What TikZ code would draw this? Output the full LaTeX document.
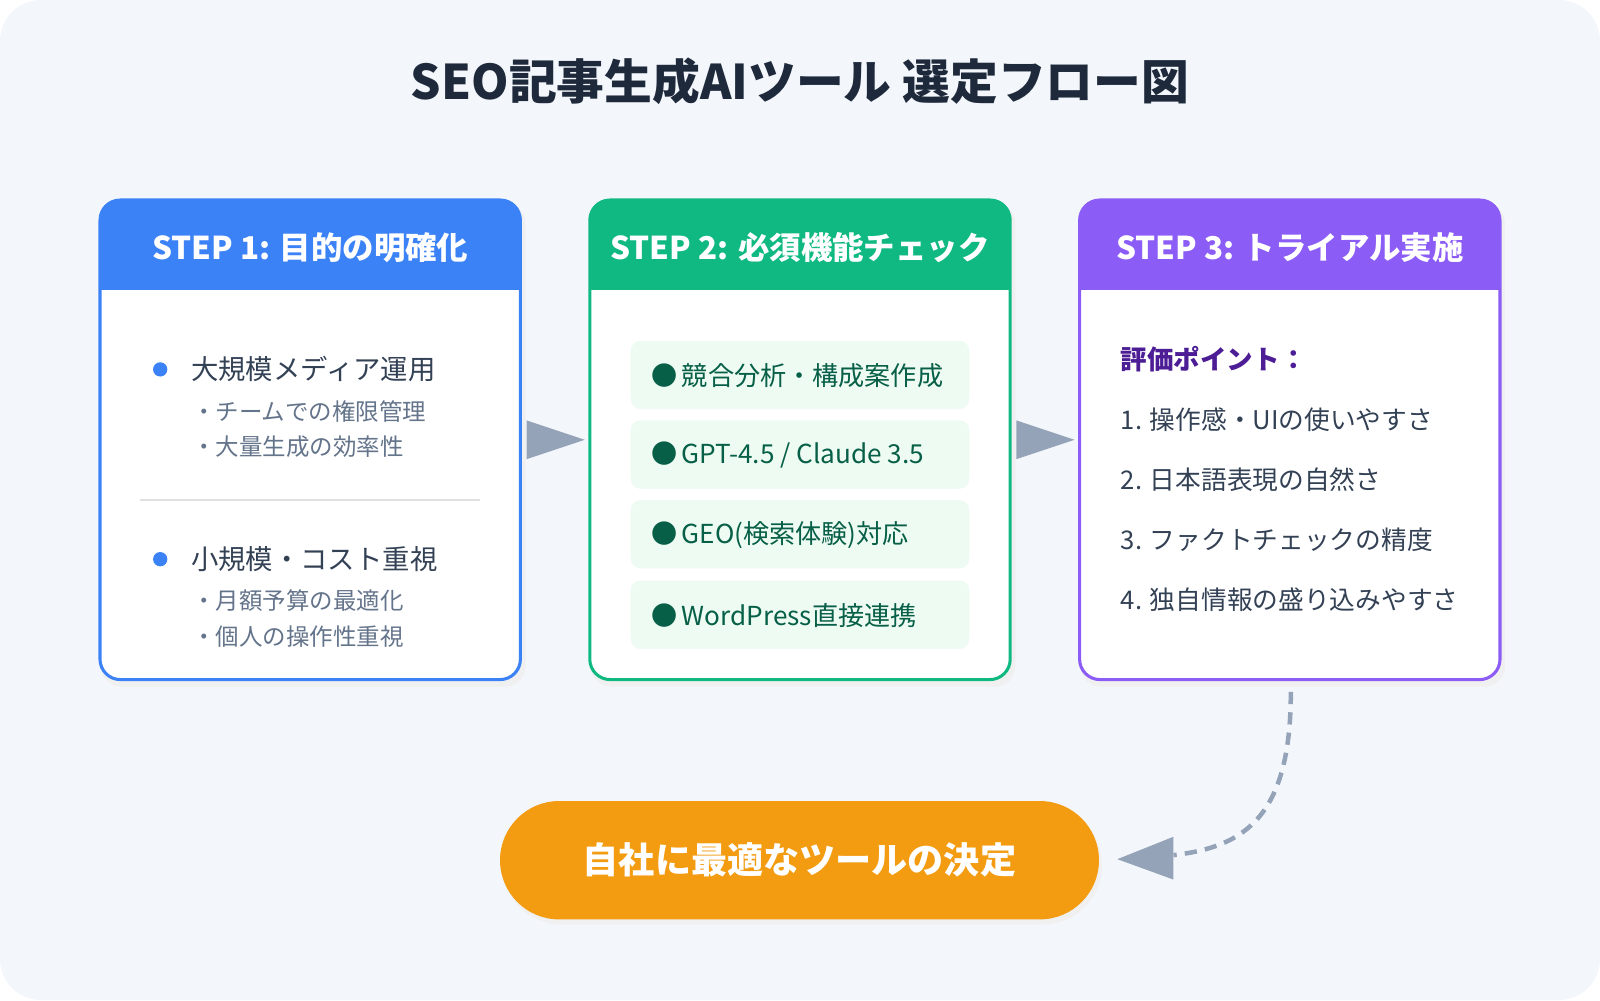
\documentclass[tikz,border=0pt]{standalone}
\usepackage{fontspec}
\setmainfont{Noto Sans CJK JP}
\usetikzlibrary{arrows.meta}
\definecolor{bg}{HTML}{F3F7FC}
\definecolor{blue1}{HTML}{3B82F6}
\definecolor{green1}{HTML}{10B981}
\definecolor{purple1}{HTML}{8B5CF6}
\definecolor{dark}{HTML}{1E293B}
\definecolor{body}{HTML}{334155}
\definecolor{sub}{HTML}{64748B}
\definecolor{gbox}{HTML}{EEFBF3}
\definecolor{gtext}{HTML}{065F46}
\definecolor{ptext}{HTML}{4C1D95}
\definecolor{arr}{HTML}{94A3B8}
\definecolor{orange1}{HTML}{F39C12}
\begin{document}
\begin{tikzpicture}[x=0.5pt,y=-0.5pt,
  hdr/.style={text=white,font=\fontsize{15.4}{18}\selectfont\bfseries},
  bodyt/.style={anchor=west,text=body,font=\fontsize{13.4}{16}\selectfont,inner sep=0},
  subt/.style={anchor=west,text=sub,font=\fontsize{11.5}{14}\selectfont,inner sep=0},
  gt/.style={anchor=west,text=gtext,font=\fontsize{12.8}{16}\selectfont,inner sep=0},
  st/.style={anchor=west,text=body,font=\fontsize{12.6}{16}\selectfont,inner sep=0},
  gb/.style={fill=gbox,rounded corners=5pt},
  tri/.style={fill=arr}]
\useasboundingbox (0,0) rectangle (1568,980);
\fill[bg,rounded corners=20pt] (0,0) rectangle (1568,980);
\node[text=dark,font=\fontsize{23.4}{28}\selectfont\bfseries] (title) at (784,80) {SEO記事生成AIツール 選定フロー図};
% boxes
\foreach \x/\c/\n in {97/blue1/a,577/green1/b,1057/purple1/c}{
  \fill[black!6,rounded corners=10pt] (\x+2,199) rectangle (\x+418,673);
  \begin{scope}
  \clip[rounded corners=10pt] (\x,195) rectangle (\x+414,667);
  \fill[white] (\x,195) rectangle (\x+414,667);
  \fill[\c] (\x,195) rectangle (\x+414,284);
  \end{scope}
  \draw[\c,line width=1.5pt,rounded corners=10pt] (\x+1,196) rectangle (\x+413,666);
}
\node[hdr] (h1) at (304,243) {STEP 1: 目的の明確化};
\node[hdr] (h2) at (784,243) {STEP 2: 必須機能チェック};
\node[hdr] (h3) at (1264,243) {STEP 3: トライアル実施};
% step1
\fill[blue1] (157,362) circle (7);
\node[bodyt] (a1) at (187,362) {大規模メディア運用};
\node[subt] (a2) at (188,403) {・チームでの権限管理};
\node[subt] (a3) at (188,438) {・大量生成の効率性};
\draw[black!12,line width=0.7pt] (137,490) -- (470,490);
\fill[blue1] (157,548) circle (7);
\node[bodyt] (a4) at (187,548) {小規模・コスト重視};
\node[subt] (a5) at (188,589) {・月額予算の最適化};
\node[subt] (a6) at (188,624) {・個人の操作性重視};
% step2
\foreach \y in {334,412,490,569}{\fill[gb] (618,\y) rectangle (950,\y+67);}
\node[gt] (b1) at (638,368) {●\,競合分析・構成案作成};
\node[gt] (b2) at (638,446) {●\,GPT-4.5 / Claude 3.5};
\node[gt] (b3) at (638,524) {●\,GEO(検索体験)対応};
\node[gt] (b4) at (638,603) {●\,WordPress直接連携};
% step3
\node[bodyt,text=ptext,font=\fontsize{13}{16}\selectfont\bfseries] (c0) at (1098,352) {評価ポイント：};
\node[st] (c1) at (1098,411) {1. 操作感・UIの使いやすさ};
\node[st] (c2) at (1098,470) {2. 日本語表現の自然さ};
\node[st] (c3) at (1098,529) {3. ファクトチェックの精度};
\node[st] (c4) at (1098,588) {4. 独自情報の盛り込みやすさ};
% arrows
\fill[tri] (516,412) -- (573,431) -- (516,450) -- cycle;
\fill[tri] (996,412) -- (1053,431) -- (996,450) -- cycle;
% final
\fill[black!6,rounded corners=29pt] (492,790) rectangle (1080,906);
\node[fill=orange1,rounded corners=29pt,minimum width=293.5pt,minimum height=58pt,inner sep=0,text=white,font=\fontsize{17.7}{21}\selectfont\bfseries] (fin) at (783.5,843) {自社に最適なツールの決定};
\coordinate (s) at (1265,678);
\coordinate (e) at (1150,838);
\draw[arr,line width=2.2pt,dash pattern=on 6pt off 4pt] (s) .. controls (1265,800) and (1220,830) .. (e);
\fill[tri] (1095,842) -- (1150,820) -- (1150,862) -- cycle;
\end{tikzpicture}
\end{document}
